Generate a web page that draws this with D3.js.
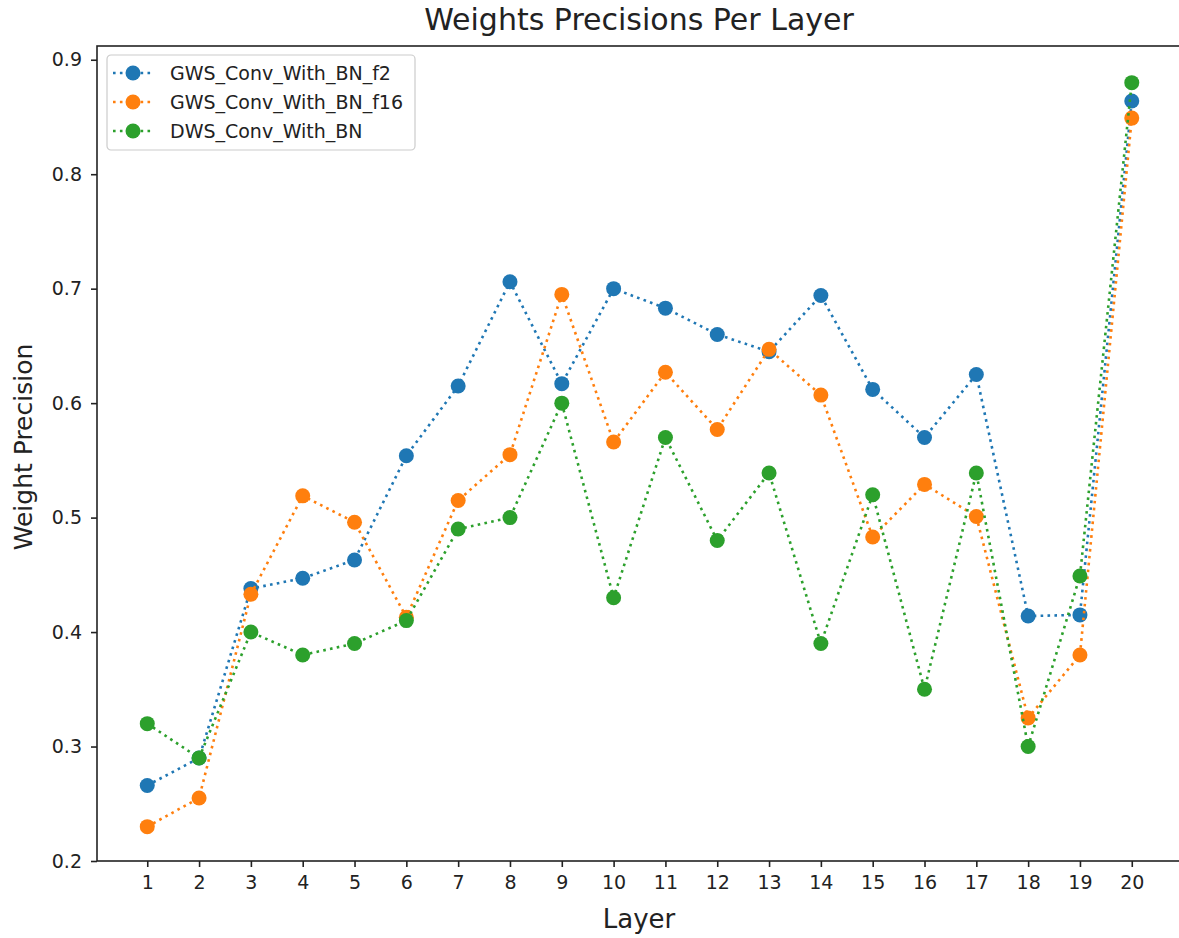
<!DOCTYPE html>
<head>
  <meta charset="utf-8">
  <script src="https://d3js.org/d3.v7.min.js"></script>
  <style>
    body { margin: 0; background: #fff; }
    text { font-family: "DejaVu Sans", sans-serif; fill: #222; }
  </style>
</head>
<body>
<script>
  var layers = d3.range(1, 21);
  var gwsF2 = [0.266, 0.290, 0.438, 0.447, 0.463, 0.554, 0.615, 0.706, 0.617, 0.700,
               0.683, 0.660, 0.645, 0.694, 0.612, 0.570, 0.625, 0.414, 0.415, 0.864];
  var gwsF16 = [0.230, 0.255, 0.433, 0.519, 0.496, 0.413, 0.515, 0.555, 0.695, 0.566,
                0.627, 0.577, 0.647, 0.607, 0.483, 0.529, 0.501, 0.325, 0.380, 0.849];
  var dws = [0.320, 0.290, 0.400, 0.380, 0.390, 0.410, 0.490, 0.500, 0.600, 0.430,
             0.570, 0.480, 0.539, 0.390, 0.520, 0.350, 0.539, 0.300, 0.449, 0.880];
  var seriesNames = ["GWS_Conv_With_BN_f2", "GWS_Conv_With_BN_f16", "DWS_Conv_With_BN"];
  var colors = ["#1f77b4", "#ff7f0e", "#2ca02c"];
  var yTicks = [0.2, 0.3, 0.4, 0.5, 0.6, 0.7, 0.8, 0.9];

  var series = [gwsF2, gwsF16, dws];

  var width = 1179, height = 938;
  var margin = {top: 46, right: -2, bottom: 77, left: 97};

  var svg = d3.select("body").append("svg")
      .attr("width", width)
      .attr("height", height);

  var x = d3.scaleLinear()
      .domain([0.03, 20.95])
      .range([margin.left, width - margin.right]);

  var y = d3.scaleLinear()
      .domain([0.2, 0.912])
      .range([height - margin.bottom, margin.top]);

  // axes
  var xAxis = svg.append("g")
      .attr("transform", "translate(0," + (height - margin.bottom) + ")")
      .call(d3.axisBottom(x).tickValues(layers).tickSize(6).tickPadding(9).tickFormat(d3.format("d")));
  var yAxis = svg.append("g")
      .attr("transform", "translate(" + margin.left + ",0)")
      .call(d3.axisLeft(y).tickValues(yTicks).tickSize(6).tickPadding(9).tickFormat(d3.format(".1f")));

  [xAxis, yAxis].forEach(function(a) {
    a.selectAll("text").style("font-size", "19px").attr("fill", "#222");
    a.selectAll("line").attr("stroke", "#222").attr("stroke-width", 1.6);
    a.select(".domain").remove();
  });

  // frame
  svg.append("rect")
      .attr("x", margin.left)
      .attr("y", margin.top)
      .attr("width", width - margin.right - margin.left)
      .attr("height", height - margin.bottom - margin.top)
      .attr("fill", "none")
      .attr("stroke", "#222")
      .attr("stroke-width", 1.6);

  var line = d3.line()
      .x(function(d, i) { return x(layers[i]); })
      .y(function(d) { return y(d); });

  series.forEach(function(s, k) {
    svg.append("path")
        .datum(s)
        .attr("fill", "none")
        .attr("stroke", colors[k])
        .attr("stroke-width", 2.6)
        .attr("stroke-dasharray", "2.6,4.3")
        .attr("d", line);
    svg.append("g").selectAll("circle")
        .data(s)
        .enter().append("circle")
        .attr("cx", function(d, i) { return x(layers[i]); })
        .attr("cy", function(d) { return y(d); })
        .attr("r", 7.5)
        .attr("fill", colors[k]);
  });

  // title and labels
  svg.append("text")
      .attr("x", 639)
      .attr("y", 30)
      .attr("text-anchor", "middle")
      .style("font-size", "30px")
      .text("Weights Precisions Per Layer");

  svg.append("text")
      .attr("x", 639)
      .attr("y", 928)
      .attr("text-anchor", "middle")
      .style("font-size", "26px")
      .text("Layer");

  svg.append("text")
      .attr("transform", "translate(32,447)rotate(-90)")
      .attr("text-anchor", "middle")
      .style("font-size", "25px")
      .text("Weight Precision");

  // legend
  var legend = svg.append("g").attr("transform", "translate(107,55)");
  legend.append("rect")
      .attr("width", 308)
      .attr("height", 95)
      .attr("rx", 4)
      .attr("fill", "#fff")
      .attr("fill-opacity", 0.8)
      .attr("stroke", "#ccc")
      .attr("stroke-width", 1.2);

  var item = legend.selectAll(".item")
      .data(seriesNames)
      .enter().append("g")
      .attr("transform", function(d, i) { return "translate(0," + (18 + i * 29) + ")"; });
  item.append("line")
      .attr("x1", 6).attr("x2", 44)
      .attr("stroke", function(d, i) { return colors[i]; })
      .attr("stroke-width", 2.6)
      .attr("stroke-dasharray", "2.6,4.3");
  item.append("circle")
      .attr("cx", 26)
      .attr("r", 7.5)
      .attr("fill", function(d, i) { return colors[i]; });
  item.append("text")
      .attr("x", 63)
      .attr("dy", "0.35em")
      .style("font-size", "19px")
      .text(function(d) { return d; });
</script>
</body>
